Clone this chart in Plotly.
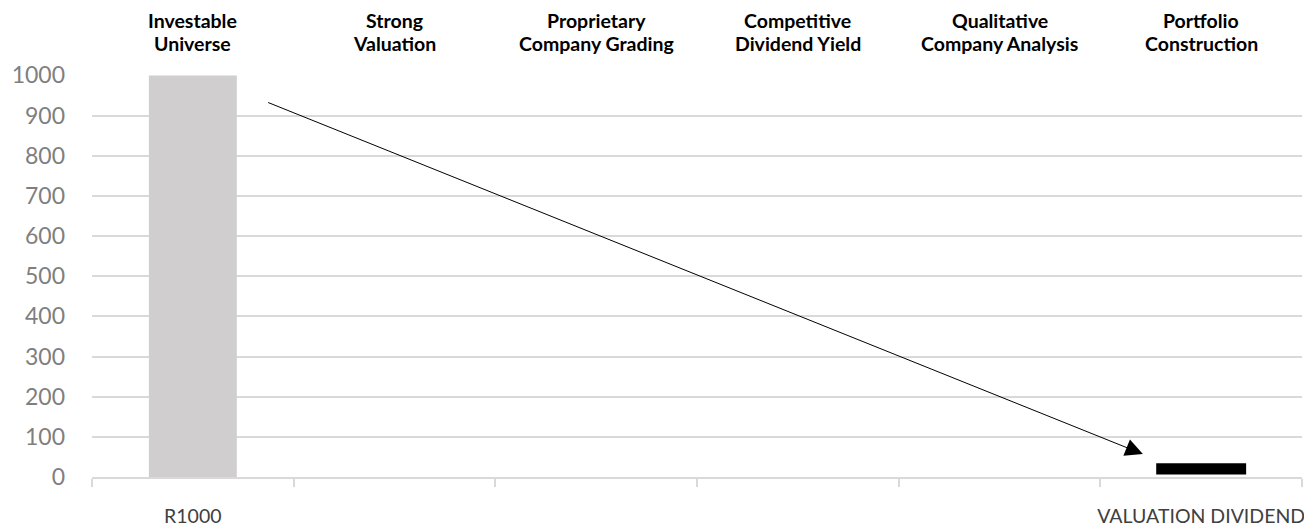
import plotly.graph_objects as go

categories = ["R1000", "c2", "c3", "c4", "c5", "VALUATION DIVIDEND"]
tick_labels = ["R1000", "", "", "", "", "VALUATION DIVIDEND"]
stage_line1 = ["Investable", "Strong", "Proprietary", "Competitive", "Qualitative", "Portfolio"]
stage_line2 = ["Universe", "Valuation", "Company Grading", "Dividend Yield", "Company Analysis", "Construction"]
universe_values = [1000, None, None, None, None, None]
portfolio_base = [None, None, None, None, None, 6]
portfolio_values = [None, None, None, None, None, 28]
arrow_start = (0.366, 934)
arrow_end = (4.711, 57)

fig = go.Figure()
fig.add_trace(go.Bar(x=categories, y=universe_values, marker=dict(color="#d0cece", line=dict(width=0)),
                     width=0.436, hoverinfo="skip"))
fig.add_trace(go.Bar(x=categories, y=portfolio_values, base=portfolio_base,
                     marker=dict(color="#000000", line=dict(width=0)), width=0.446, hoverinfo="skip"))

for c, t1, t2 in zip(categories, stage_line1, stage_line2):
    fig.add_annotation(x=c, y=1, xref="x", yref="paper", yanchor="middle", yshift=55,
                       text="<b>" + t1 + "</b>", showarrow=False,
                       font=dict(family="Lato", size=19.5, color="#000000"))
    fig.add_annotation(x=c, y=1, xref="x", yref="paper", yanchor="middle", yshift=32,
                       text="<b>" + t2 + "</b>", showarrow=False,
                       font=dict(family="Lato", size=19.5, color="#000000"))

fig.add_annotation(x=arrow_end[0], y=arrow_end[1], ax=arrow_start[0], ay=arrow_start[1],
                   xref="x", yref="y", axref="x", ayref="y", text="", showarrow=True,
                   arrowhead=2, arrowsize=3.5, arrowwidth=1, arrowcolor="#000000")

fig.update_layout(
    width=1296, height=519, margin=dict(l=84, r=2, t=67, b=50, autoexpand=False),
    plot_bgcolor="white", paper_bgcolor="white", showlegend=False, barmode="overlay",
    font=dict(family="Lato"),
)
fig.update_xaxes(type="category", tickvals=categories, ticktext=tick_labels,
                 showgrid=False, showline=True, linecolor="#d9d9d9", linewidth=1.5,
                 ticks="outside", tickson="boundaries", ticklen=8, tickcolor="#d9d9d9", tickwidth=1.5,
                 tickfont=dict(size=19.5, color="#404040"), ticklabelstandoff=21, tickangle=0,
                 automargin=False, range=[-0.5, 5.5], zeroline=False)
fig.update_yaxes(range=[0, 1001], tickvals=list(range(0, 1001, 100)), showgrid=True,
                 gridcolor="#d9d9d9", gridwidth=1.5, showline=False, zeroline=False, automargin=False,
                 tickfont=dict(size=23, color="#7f7f7f"), ticklabelstandoff=26)

fig.write_html("out.html")
